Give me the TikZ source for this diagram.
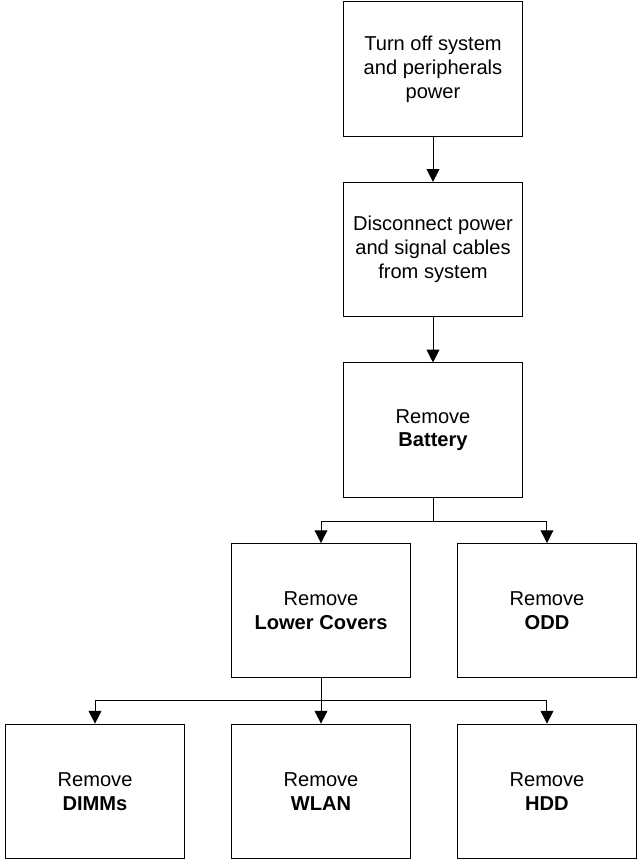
\documentclass[tikz,border=0pt]{standalone}
\usepackage{fontspec}
\setmainfont{Liberation Sans}
\usetikzlibrary{positioning, arrows.meta}

\begin{document}
\begin{tikzpicture}[
    font=\fontsize{14.3}{17}\selectfont,
    node distance=11.3mm and 11.5mm,
    stepbox/.style={rectangle, draw=black, line width=0.7pt, fill=white,
        minimum width=4.475cm, minimum height=3.36cm, align=center, inner sep=4pt},
    flow/.style={draw=black, line width=0.7pt, -{Triangle[length=3.2mm, width=3.2mm]}},
    trunk/.style={draw=black, line width=0.7pt},
]

\useasboundingbox (0,0) rectangle (15.9,-21.475);

\node[stepbox] (power) at (10.825,-1.725)
    {Turn off system\\and peripherals\\power};

\node[stepbox, below=of power] (cables)
    {Disconnect power\\and signal cables\\from system};

\node[stepbox, below=of cables] (battery)
    {Remove\\\textbf{Battery}};

\node[stepbox, below=of battery, xshift=-2.8cm] (covers)
    {Remove\\\textbf{Lower Covers}};

\node[stepbox, right=of covers] (odd)
    {Remove\\\textbf{ODD}};

\node[stepbox, below=of covers] (wlan)
    {Remove\\\textbf{WLAN}};

\node[stepbox, left=of wlan] (dimms)
    {Remove\\\textbf{DIMMs}};

\node[stepbox, right=of wlan] (hdd)
    {Remove\\\textbf{HDD}};

\coordinate[below=6mm of battery.south] (split1);
\coordinate[below=5.5mm of covers.south] (split2);

\draw[flow] (power) -- (cables);
\draw[flow] (cables) -- (battery);

\draw[trunk] (battery.south) -- (split1);
\draw[flow] (split1) -| (covers.north);
\draw[flow] (split1) -| (odd.north);

\draw[trunk] (covers.south) -- (split2);
\draw[flow] (split2) -| (dimms.north);
\draw[flow] (split2) -- (wlan.north);
\draw[flow] (split2) -| (hdd.north);

\end{tikzpicture}
\end{document}
